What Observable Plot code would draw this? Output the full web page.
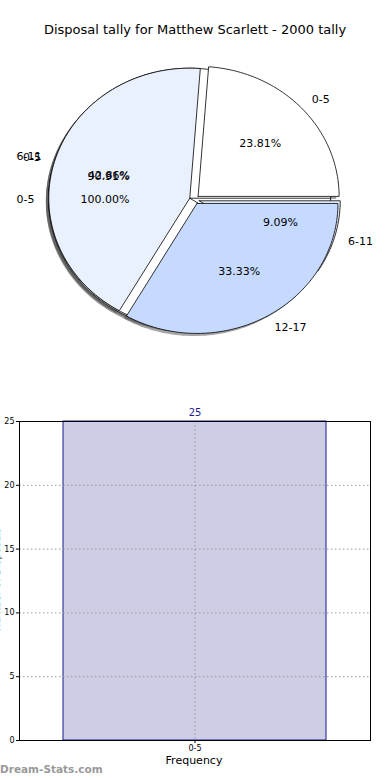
<!DOCTYPE html>
<html>
<head>
<meta charset="utf-8">
<script src="https://cdn.jsdelivr.net/npm/d3@7"></script>
<script src="https://cdn.jsdelivr.net/npm/@observablehq/plot@0.6"></script>
<style>
  html, body { margin: 0; padding: 0; background: #fff; }
  #page { position: relative; width: 390px; height: 780px; overflow: hidden; font-family: "DejaVu Sans", sans-serif; }
  .abs { position: absolute; }
</style>
</head>
<body>
<div id="page"></div>
<script>
// ---------- data ----------
const title = "Disposal tally for Matthew Scarlett - 2000 tally";
const pieALabels = ["0-5"];
const pieAValues = [25];
const pieBLabels = ["0-5", "6-11"];
const pieBValues = [10, 1];
const pieCLabels = ["0-5", "6-11", "12-17"];
const pieCValues = [5, 9, 7];
const sliceColors = { "0-5": "#ffffff", "6-11": "#e9f0fe", "12-17": "#c6d9fe" };

const barCategories = ["0-5"];
const barValues = [25];
const yTicks = [0, 5, 10, 15, 20, 25];
const xLabel = "Frequency";
const yLabel = "Number of Disposals";
const watermark = "Dream-Stats.com";

// ---------- page ----------
const page = document.getElementById("page");
const font = "DejaVu Sans";

const t = document.createElement("div");
t.className = "abs";
t.style.cssText = "left:0;width:390px;top:22px;text-align:center;font-size:13px;color:#000;";
t.textContent = title;
page.appendChild(t);

// ---------- pie (three overlaid pies, as in the reference) ----------
const EXPLODE = 0.035;
const SHADOW = -0.02;
function buildPie(id, labels, values) {
  const total = d3.sum(values);
  let a = 0;
  return labels.map((lab, i) => {
    const frac = values[i] / total;
    const t1 = a, t2 = a + frac * 2 * Math.PI;
    a = t2;
    const tm = (t1 + t2) / 2;
    const cx = EXPLODE * Math.cos(tm), cy = EXPLODE * Math.sin(tm);
    const pts = [];
    const full = frac >= 0.9999;
    if (!full) pts.push({ x: cx, y: cy });
    const n = Math.max(8, Math.ceil(frac * 240));
    for (let k = 0; k <= n; k++) {
      const th = t1 + (t2 - t1) * k / n;
      pts.push({ x: cx + Math.cos(th), y: cy + Math.sin(th) });
    }
    if (!full) pts.push({ x: cx, y: cy });
    return {
      id, label: lab, pct: (frac * 100).toFixed(2) + "%",
      color: sliceColors[lab], pts,
      lx: cx + 1.1 * Math.cos(tm), ly: cy + 1.1 * Math.sin(tm),
      px: cx + 0.6 * Math.cos(tm), py: cy + 0.6 * Math.sin(tm)
    };
  });
}
const wedges = [
  ...buildPie("A", pieALabels, pieAValues),
  ...buildPie("B", pieBLabels, pieBValues),
  ...buildPie("C", pieCLabels, pieCValues)
];

const pieMarks = [];
wedges.forEach(w => {
  pieMarks.push(Plot.line(w.pts, {
    x: d => d.x + SHADOW, y: d => d.y + SHADOW,
    fill: "#4d4d4d", fillOpacity: 0.5, stroke: "none", curve: "linear"
  }));
});
wedges.forEach(w => {
  pieMarks.push(Plot.line(w.pts, {
    x: "x", y: "y", fill: w.color, stroke: "#000", strokeWidth: 0.8, curve: "linear"
  }));
});
pieMarks.push(Plot.text(wedges.filter(w => w.lx > 0), {
  x: "lx", y: "ly", text: "label", textAnchor: "start", fontSize: 11, fill: "#000"
}));
pieMarks.push(Plot.text(wedges.filter(w => w.lx <= 0), {
  x: "lx", y: "ly", text: "label", textAnchor: "end", fontSize: 11, fill: "#000"
}));
pieMarks.push(Plot.text(wedges, {
  x: "px", y: "py", text: "pct", textAnchor: "middle", fontSize: 11, fill: "#000"
}));

const pie = Plot.plot({
  width: 390, height: 390,
  marginTop: 0, marginBottom: 0, marginLeft: 0, marginRight: 0,
  x: { domain: [-194 / 141, 196 / 141], axis: null },
  y: { domain: [-191 / 130, 199 / 130], axis: null },
  style: { fontFamily: font, background: "transparent", overflow: "visible" },
  marks: pieMarks
});
pie.classList.add("abs");
pie.style.left = "0px";
pie.style.top = "0px";
page.appendChild(pie);

// ---------- bar chart ----------
const barData = barCategories.map((c, i) => ({ cat: c, value: barValues[i] }));
const bar = Plot.plot({
  width: 390, height: 360,
  marginTop: 21, marginBottom: 20, marginLeft: 19, marginRight: 20,
  x: { domain: barCategories, paddingInner: 0, paddingOuter: 0.165, axis: null },
  y: { domain: [0, 25], axis: null },
  style: { fontFamily: font, background: "transparent", overflow: "visible" },
  marks: [
    Plot.barY(barData, { x: "cat", y: "value", fill: "#cdcde6", stroke: "#1a1a8c", strokeWidth: 1 }),
    Plot.gridY(yTicks, { stroke: "#999", strokeOpacity: 1, strokeDasharray: "1.5,2.5", strokeWidth: 1 }),
    Plot.gridX(barCategories, { stroke: "#999", strokeOpacity: 1, strokeDasharray: "1.5,2.5", strokeWidth: 1 }),
    Plot.frame({ stroke: "#000", strokeWidth: 1 }),
    Plot.axisY(yTicks, { tickSize: 3, fontSize: 8, tickPadding: 2, label: null, fill: "#000" }),
    Plot.axisX(barCategories, { tickSize: 3, fontSize: 8, tickPadding: 2, label: null, fill: "#000" }),
    Plot.text(barData, { x: "cat", y: "value", text: d => String(d.value), dy: -9, fill: "#1f1f8f", fontSize: 10 })
  ]
});
bar.classList.add("abs");
bar.style.left = "0px";
bar.style.top = "400px";
page.appendChild(bar);

const xl = document.createElement("div");
xl.className = "abs";
xl.style.cssText = "left:144px;width:100px;top:754px;text-align:center;font-size:11px;color:#000;";
xl.textContent = xLabel;
page.appendChild(xl);

const yl = document.createElement("div");
yl.className = "abs";
yl.style.cssText = "left:-74px;width:140px;top:574px;text-align:center;font-size:10px;color:#000;transform:rotate(-90deg);";
yl.textContent = yLabel;
page.appendChild(yl);

const wm = document.createElement("div");
wm.className = "abs";
wm.style.cssText = "left:0px;top:763px;font-size:10.5px;font-weight:bold;color:#999;";
wm.textContent = watermark;
page.appendChild(wm);
</script>
</body>
</html>
